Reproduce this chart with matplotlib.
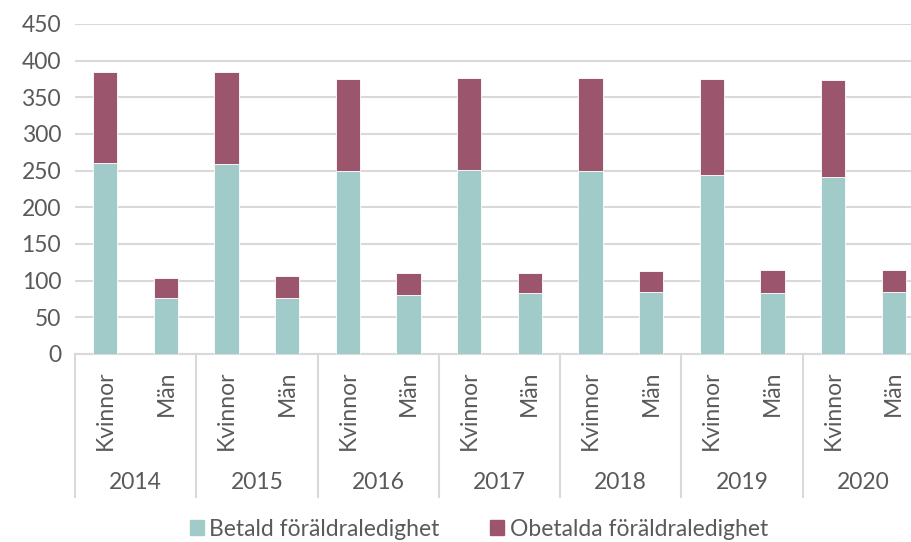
import matplotlib.pyplot as plt
from matplotlib.patches import Patch
import numpy as np

years = ['2014', '2015', '2016', '2017', '2018', '2019', '2020']
genders = ['Kvinnor', 'Män']

# per year: Kvinnor, Män
betald = [261, 77, 259, 77, 249, 80, 251, 83, 249, 85, 244, 83, 241, 84]
totalt = [385, 103, 384, 106, 375, 111, 377, 111, 376, 113, 375, 114, 374, 114]
obetald = [t - b for t, b in zip(totalt, betald)]

teal = '#A0CBC9'
plum = '#9B566E'
grey = '#5A5A5A'
gridc = '#D9D9D9'
fs = 16.5

plt.rcParams['font.family'] = ['Lato', 'DejaVu Sans']

fig = plt.figure(figsize=(9.12, 5.42), dpi=100)
ax = fig.add_axes([75 / 912, 188 / 542, 849 / 912, 330 / 542])

x = np.arange(len(betald))
ax.bar(x, betald, width=0.4, color=teal, edgecolor='white', linewidth=0.6, zorder=3)
ax.bar(x, obetald, bottom=betald, width=0.4, color=plum, edgecolor='white', linewidth=0.6, zorder=3)

ax.set_xlim(-0.5, len(betald) - 0.5)
ax.set_ylim(0, 450)
ax.set_yticks(range(0, 451, 50))
ax.yaxis.grid(True, color=gridc, linewidth=1.5, zorder=0)
ax.set_axisbelow(True)
for s in ['left', 'right', 'top']:
    ax.spines[s].set_visible(False)
ax.spines['bottom'].set_color(gridc)
ax.spines['bottom'].set_linewidth(1.5)
ax.tick_params(axis='y', length=0, labelsize=fs, labelcolor=grey, pad=10)
ax.set_xticks([])

trans = ax.get_xaxis_transform()
# group separators
for i in range(len(years) + 1):
    ax.plot([2 * i - 0.5, 2 * i - 0.5], [0, -0.433], transform=trans,
            color=gridc, linewidth=1.5, clip_on=False)

for i, xi in enumerate(x):
    ax.text(xi, -0.05, genders[i % 2], transform=trans, rotation=90,
            ha='center', va='top', fontsize=fs, color=grey)

for j, yr in enumerate(years):
    ax.text(2 * j + 0.5, -0.388, yr, transform=trans, ha='center', va='center',
            fontsize=fs, color=grey)

handles = [Patch(color=teal), Patch(color=plum)]
leg = fig.legend(handles, ['Betald föräldraledighet', 'Obetalda föräldraledighet'],
                 loc='center', bbox_to_anchor=(0.525, 13 / 542),
                 ncol=2, frameon=False, fontsize=fs, handlelength=0.6,
                 handleheight=0.6, handletextpad=0.25, columnspacing=2.2)
for t in leg.get_texts():
    t.set_color(grey)

fig.savefig('out.png', dpi=100)
